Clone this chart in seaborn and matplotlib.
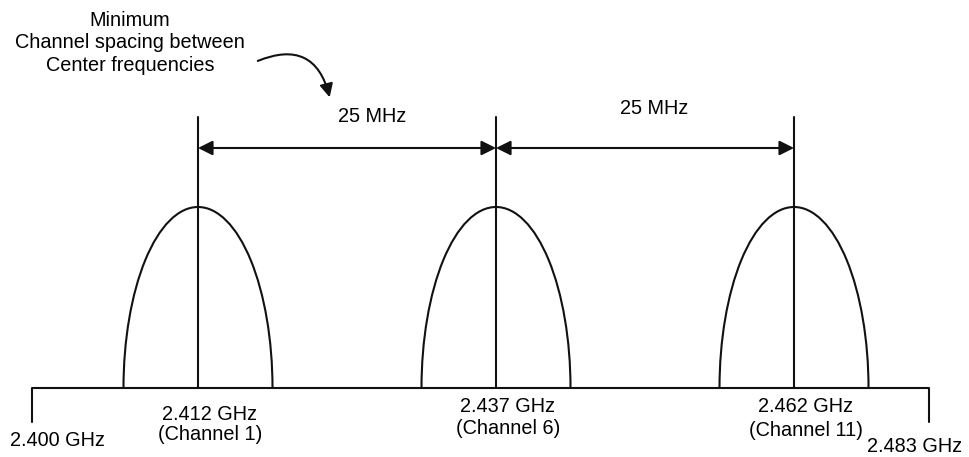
import matplotlib
matplotlib.use("Agg")
import matplotlib.pyplot as plt
import seaborn as sns
import pandas as pd
from matplotlib.patches import Arc, FancyArrowPatch

# channel data (MHz)
channels = [1, 6, 11]
center_freqs = [2412, 2437, 2462]
center_labels = ["2.412 GHz", "2.437 GHz", "2.462 GHz"]
band_edge_labels = ["2.400 GHz", "2.483 GHz"]
spacing_label = "25 MHz"
note_text = "Minimum\nChannel spacing between\nCenter frequencies"

# schematic layout (band edges are not drawn to scale in the diagram)
edge_pos = [2398.07, 2473.33]
half_width = 6.25
bump_h = 181
center_top = 271
arrow_y = 240
tick_depth = -34

sns.set_theme(style="white")
plt.rcParams["font.family"] = ["Liberation Sans", "DejaVu Sans"]
plt.rcParams["text.color"] = "black"
fs = 14.3

fig = plt.figure(figsize=(9.69, 4.57), dpi=100)
ax = fig.add_axes([0, 0, 1, 1])
ax.set_xlim(2395.39, 2476.68)
ax.set_ylim(-69, 388)
ax.axis("off")

lw = 1.5
black = "#111111"

# baseline with band-edge ticks
base = pd.DataFrame({"x": [edge_pos[0], edge_pos[0], edge_pos[1], edge_pos[1]],
                     "y": [tick_depth, 0, 0, tick_depth]})
sns.lineplot(data=base, x="x", y="y", sort=False, estimator=None,
             color=black, lw=lw, ax=ax)

# channel masks and center lines
for f in center_freqs:
    ax.add_patch(Arc((f, 0), 2 * half_width, 2 * bump_h, theta1=0, theta2=180,
                     color=black, lw=lw))
    ax.plot([f, f], [0, center_top], color=black, lw=lw)

# spacing arrows
for a, b in zip(center_freqs[:-1], center_freqs[1:]):
    ax.annotate("", xy=(b, arrow_y), xytext=(a, arrow_y),
                arrowprops=dict(arrowstyle="<|-|>", color=black, lw=lw,
                                mutation_scale=22, shrinkA=0, shrinkB=0))
ax.text(2426.6, 271, spacing_label, ha="center", va="center", fontsize=fs)
ax.text(2450.3, 280, spacing_label, ha="center", va="center", fontsize=fs)

# note with curved arrow
ax.text(2406.3, 345, note_text, ha="center", va="center", fontsize=fs,
        linespacing=1.25)
curve = FancyArrowPatch((2416.8, 326), (2423.1, 288),
                        connectionstyle="arc3,rad=-0.6", arrowstyle="-|>",
                        mutation_scale=20, color=black, lw=lw)
ax.add_patch(curve)

# frequency labels
label_y = [(-26, -46), (-18, -41), (-18, -42)]
for f, lab, ch, (y1, y2) in zip(center_freqs, center_labels, channels, label_y):
    ax.text(f + 1.0, y1, lab, ha="center", va="center", fontsize=fs)
    ax.text(f + 1.0, y2, f"(Channel {ch})", ha="center", va="center", fontsize=fs)

ax.text(2400.17, -53, band_edge_labels[0], ha="center", va="center", fontsize=fs)
ax.text(2472.15, -59, band_edge_labels[1], ha="center", va="center", fontsize=fs)

fig.savefig("out.png", dpi=100)
